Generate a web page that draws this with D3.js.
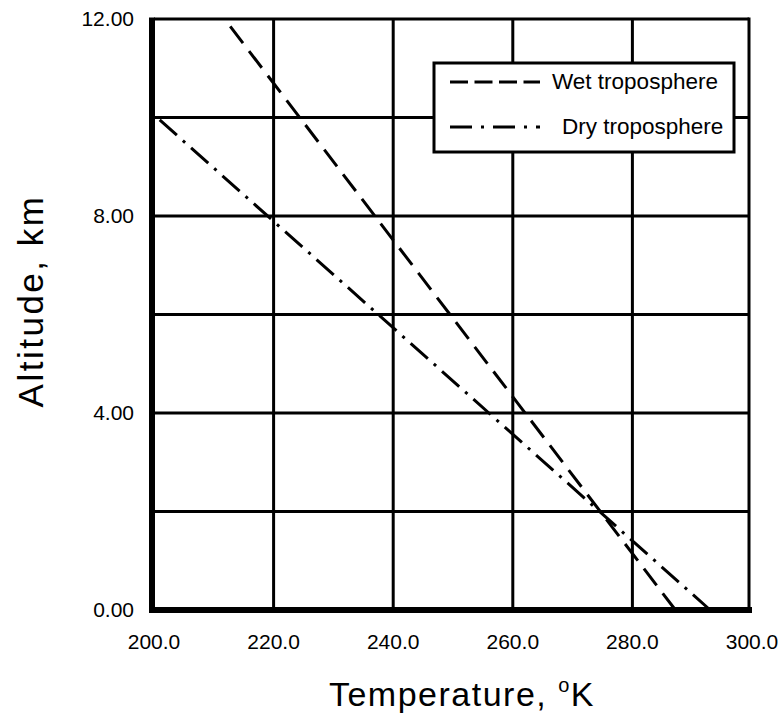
<!DOCTYPE html>
<html>
<head>
<meta charset="utf-8">
<script src="https://cdn.jsdelivr.net/npm/d3@7"></script>
<style>
  body { margin: 0; background: #fff; }
  text { font-family: "Liberation Sans", Arial, sans-serif; fill: #000; }
</style>
</head>
<body>
<div id="chart"></div>
<script>
// values
var wetAltitude = [0, 12],
    wetTemp = [287.2, 211.8];
var dryAltitude = [0, 10],
    dryTemp = [293.0, 200.5];
var xTicks = [200, 220, 240, 260, 280, 300],
    yLabelTicks = [0, 4, 8, 12],
    yGridTicks = [2, 4, 6, 8, 10];
var seriesNames = ["Wet troposphere", "Dry troposphere"];

var width = 780, height = 717;
var pLeft = 154, pRight = 752, pTop = 19, pBottom = 610;

var svg = d3.select("#chart").append("svg")
    .attr("width", width)
    .attr("height", height);

var x = d3.scaleLinear().domain([200, 300]).range([pLeft, pRight]);
var y = d3.scaleLinear().domain([0, 12]).range([pBottom, pTop]);

var dashed = "21,10",
    dashDot = "23,8,3,8";

// grid
svg.append("g").selectAll("line")
    .data(xTicks.slice(1, -1))
    .enter().append("line")
    .attr("x1", function (d) { return x(d); })
    .attr("x2", function (d) { return x(d); })
    .attr("y1", pTop).attr("y2", pBottom)
    .attr("stroke", "#000").attr("stroke-width", 3);

svg.append("g").selectAll("line")
    .data(yGridTicks)
    .enter().append("line")
    .attr("x1", pLeft).attr("x2", pRight - 3)
    .attr("y1", function (d) { return y(d); })
    .attr("y2", function (d) { return y(d); })
    .attr("stroke", "#000").attr("stroke-width", 3);

// frame: thin top/right, heavy left/bottom
svg.append("line").attr("x1", pLeft).attr("x2", pRight - 3)
    .attr("y1", pTop).attr("y2", pTop)
    .attr("stroke", "#000").attr("stroke-width", 3);
svg.append("line").attr("x1", pRight - 3).attr("x2", pRight - 3)
    .attr("y1", pTop - 1.5).attr("y2", pBottom)
    .attr("stroke", "#000").attr("stroke-width", 3);

// data lines
var line = d3.line()
    .x(function (d) { return x(d[0]); })
    .y(function (d) { return y(d[1]); });

svg.append("path")
    .datum(d3.zip(wetTemp, wetAltitude))
    .attr("d", line)
    .attr("fill", "none").attr("stroke", "#000")
    .attr("stroke-width", 3).attr("stroke-dasharray", dashed);

svg.append("path")
    .datum(d3.zip(dryTemp, dryAltitude))
    .attr("d", line)
    .attr("fill", "none").attr("stroke", "#000")
    .attr("stroke-width", 3).attr("stroke-dasharray", dashDot);

svg.append("line").attr("x1", pLeft - 2).attr("x2", pLeft - 2)
    .attr("y1", pTop - 1.5).attr("y2", pBottom + 3)
    .attr("stroke", "#000").attr("stroke-width", 6);
svg.append("line").attr("x1", pLeft - 5).attr("x2", pRight)
    .attr("y1", pBottom).attr("y2", pBottom)
    .attr("stroke", "#000").attr("stroke-width", 6);

// tick labels
svg.append("g").selectAll("text")
    .data(xTicks)
    .enter().append("text")
    .attr("x", function (d) { return x(d); })
    .attr("y", 649)
    .attr("text-anchor", "middle")
    .attr("font-size", 21)
    .text(function (d) { return d3.format(".1f")(d); });

svg.append("g").selectAll("text")
    .data(yLabelTicks)
    .enter().append("text")
    .attr("x", 134)
    .attr("y", function (d) { return y(d) + 7; })
    .attr("text-anchor", "end")
    .attr("font-size", 21)
    .text(function (d) { return d3.format(".2f")(d); });

// axis titles
var xt = svg.append("text")
    .attr("x", 462).attr("y", 706)
    .attr("text-anchor", "middle")
    .attr("font-size", 34)
    .attr("letter-spacing", 1.5);
xt.append("tspan").text("Temperature, ");
xt.append("tspan").attr("font-size", 20).attr("dy", -14).text("o");
xt.append("tspan").attr("dy", 14).text("K");

svg.append("text")
    .attr("transform", "translate(43,301) rotate(-90)")
    .attr("text-anchor", "middle")
    .attr("font-size", 35)
    .attr("letter-spacing", 2.5)
    .text("Altitude, km");

// legend
var legend = svg.append("g");
legend.append("rect")
    .attr("x", 434).attr("y", 63)
    .attr("width", 300).attr("height", 89)
    .attr("fill", "#fff").attr("stroke", "#000").attr("stroke-width", 3);

var legendRows = legend.selectAll("g")
    .data(seriesNames)
    .enter().append("g")
    .attr("transform", function (d, i) { return "translate(0," + (82 + i * 45) + ")"; });

legendRows.append("line")
    .attr("x1", 450).attr("x2", 540)
    .attr("y1", 0).attr("y2", 0)
    .attr("stroke", "#000").attr("stroke-width", 3)
    .attr("stroke-dasharray", function (d, i) { return i === 0 ? "18,6.5" : "22,9,3,9"; });

legendRows.append("text")
    .attr("x", function (d, i) { return i === 0 ? 552 : 562; })
    .attr("y", 7)
    .attr("font-size", 22.5)
    .text(function (d) { return d; });
</script>
</body>
</html>
